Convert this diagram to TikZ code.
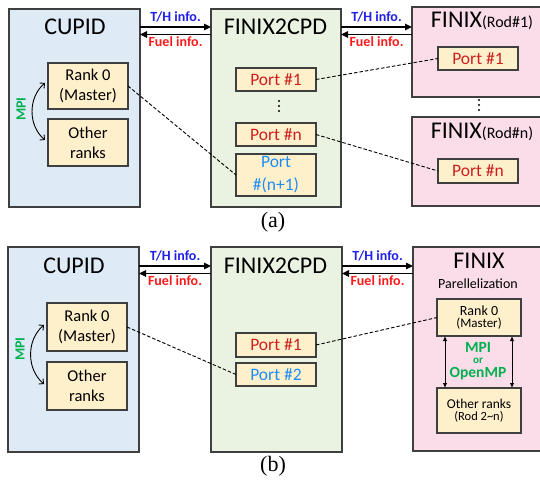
\documentclass[tikz,border=0pt]{standalone}
\usepackage{fontspec}
\setmainfont{Carlito}
\newfontfamily\capfont{Liberation Serif}
\usetikzlibrary{arrows.meta}
\definecolor{cupidfill}{HTML}{DEEBF7}
\definecolor{cpdfill}{HTML}{EAF3E1}
\definecolor{finixfill}{HTML}{FBDDE9}
\definecolor{infill}{HTML}{FFF0CC}
\definecolor{edgegray}{HTML}{3F3F3F}
\definecolor{portred}{HTML}{CC1F1F}
\definecolor{portblue}{HTML}{1E8CF5}
\definecolor{thblue}{HTML}{1F1FE6}
\definecolor{fuelred}{HTML}{FF1A1A}
\definecolor{mpigreen}{HTML}{00B050}

\begin{document}
\begin{tikzpicture}[
  x=1pt, y=-1pt,
  every node/.style={inner sep=0pt, outer sep=0pt},
  bigbox/.style={draw=edgegray, line width=1.2pt},
  inbox/.style={draw=edgegray, line width=1.1pt, fill=infill, align=center, minimum width=80},
  heading/.style={anchor=base, font=\fontsize{24}{28}\selectfont},
  porttext/.style={font=\fontsize{17.5}{23}\selectfont},
  ranktext/.style={font=\fontsize{16.5}{20}\selectfont},
  info/.style={font=\bfseries\fontsize{14}{16}\selectfont},
  flow/.style={line width=1.3pt, -{Triangle[length=7pt,width=6.5pt]}},
  link/.style={line width=0.9pt, dash pattern=on 3.5pt off 2pt},
  mpiloop/.style={line width=0.9pt, {Straight Barb[length=3.5pt]}-{Straight Barb[length=3.5pt]}},
  mpibar/.style={line width=0.9pt, {Latex[length=5pt,width=4.5pt]}-{Latex[length=5pt,width=4.5pt]}},
  mpitext/.style={text=mpigreen, font=\bfseries\fontsize{14}{16}\selectfont},
  caption/.style={font=\capfont\fontsize{22}{26}\selectfont}
  ]
  \useasboundingbox (0,0) rectangle (540,479);

  % (a)
  \node[bigbox, fill=cupidfill, minimum width=131, minimum height=198] (cupidA) at (74.5,108) {};
  \node[bigbox, fill=cpdfill, minimum width=130, minimum height=198] (cpdA) at (276,108) {};
  \node[bigbox, fill=finixfill, minimum width=136, minimum height=90] (rodA1) at (480,52) {};
  \node[bigbox, fill=finixfill, minimum width=136, minimum height=89] (rodAn) at (480,161.5) {};

  \node[heading] (cupidAtext) at (75,34) {CUPID};
  \node[heading] (cpdAtext) at (275.5,34) {FINIX2CPD};
  \node[heading] (rodA1text) at (482,27) {FINIX{\fontsize{16}{18}\selectfont(Rod\#1)}};
  \node[heading] (rodAntext) at (482,138) {FINIX{\fontsize{16}{18}\selectfont(Rod\#n)}};

  \node[inbox, ranktext, minimum height=46] (rankA) at (88,86) {Rank 0\\(Master)};
  \node[inbox, ranktext, minimum height=47] (otherA) at (88,142.5) {Other\\ranks};
  \node[mpitext, rotate=90] (mpiA) at (21,109) {MPI};
  \draw[mpiloop] ([xshift=-3pt,yshift=3pt]rankA.west) to[bend right=50] ([xshift=-3pt,yshift=2.5pt]otherA.west);

  \node[inbox, porttext, text=portred, minimum height=23] (portA1) at (276,79.5) {Port \#1};
  \coordinate (dotsA) at (279,106);
  \node[inbox, porttext, text=portred, minimum height=23] (portAn) at (276,134.5) {Port \#n};
  \node[inbox, porttext, text=portblue, minimum height=42] (portAx) at (276,175) {Port\\\#(n+1)};

  \node[inbox, porttext, text=portred, minimum height=23] (rodA1port) at (478,58.5) {Port \#1};
  \coordinate (dotsArod) at (479,105);
  \node[inbox, porttext, text=portred, minimum height=24] (rodAnport) at (478,171) {Port \#n};
  \foreach \dy in {-5,0,5} {
    \fill ([yshift=\dy pt]dotsA) circle (1.1pt);
    \fill ([yshift=\dy pt]dotsArod) circle (1.1pt);
  }

  \draw[flow] ([yshift=-18pt]cupidA.north east) -- node[info, text=thblue, above=5pt] (thA1) {T/H info.} ([yshift=-18pt]cpdA.north west);
  \draw[flow] ([yshift=-25.5pt]cpdA.north west) -- node[info, text=fuelred, below=2.5pt] (fuelA1) {Fuel info.} ([yshift=-25.5pt]cupidA.north east);
  \draw[flow] ([yshift=-18pt]cpdA.north east) -- node[info, text=thblue, above=5pt] (thA2) {T/H info.} ([yshift=-20pt]rodA1.north west);
  \draw[flow] ([yshift=-27.5pt]rodA1.north west) -- node[info, text=fuelred, below=2.5pt] (fuelA2) {Fuel info.} ([yshift=-25.5pt]cpdA.north east);

  \draw[link] (portA1.east) -- (rodA1port.west);
  \draw[link] (portAn.east) -- (rodAnport.west);
  \draw[link] (rankA.east) -- (portAx.west);

  \node[caption] (capA) at (273,222) {(a)};

  % (b)
  \node[bigbox, fill=cupidfill, minimum width=131, minimum height=205] (cupidB) at (73.5,349.5) {};
  \node[bigbox, fill=cpdfill, minimum width=131, minimum height=205] (cpdB) at (276.5,349.5) {};
  \node[bigbox, fill=finixfill, minimum width=135, minimum height=204] (finixB) at (480.5,349) {};

  \node[heading] (cupidBtext) at (74,273) {CUPID};
  \node[heading] (cpdBtext) at (275.5,273) {FINIX2CPD};
  \node[heading] (finixBtext) at (479,268) {FINIX};
  \node[anchor=base, font=\fontsize{14}{16}\selectfont] (parBtext) at (478,288) {Parellelization};

  \node[inbox, ranktext, minimum height=48] (rankB) at (87,327) {Rank 0\\(Master)};
  \node[inbox, ranktext, minimum height=48] (otherB) at (87,386) {Other\\ranks};
  \node[mpitext, rotate=90] (mpiB) at (20,349) {MPI};
  \draw[mpiloop] ([xshift=-3pt,yshift=2pt]rankB.west) to[bend right=50] ([xshift=-3pt,yshift=2pt]otherB.west);

  \node[inbox, porttext, text=portred, minimum height=24] (portB1) at (276,345) {Port \#1};
  \node[inbox, porttext, text=portblue, minimum height=23] (portB2) at (276,374.5) {Port \#2};

  \node[inbox, minimum width=84, minimum height=37] (fxrankB) at (479,317.5) {{\fontsize{14}{16}\selectfont Rank 0}\\{\fontsize{13}{16}\selectfont(Master)}};
  \node[inbox, minimum width=84, minimum height=45] (fxotherB) at (479,410.5) {{\fontsize{13.5}{17}\selectfont Other ranks}\\{\fontsize{12.5}{16}\selectfont(Rod 2\textasciitilde n)}};
  \draw[mpibar] ([xshift=8pt]fxrankB.south west) -- ([xshift=8pt]fxotherB.north west);
  \draw[mpibar] ([xshift=-9pt]fxrankB.south east) -- ([xshift=-9pt]fxotherB.north east);
  \node[mpitext, font=\bfseries\fontsize{15.5}{17}\selectfont] (mpiBfx) at (478,347) {MPI};
  \node[mpitext, font=\bfseries\fontsize{11}{13}\selectfont] (orBfx) at (478,361) {or};
  \node[mpitext, font=\bfseries\fontsize{15.5}{17}\selectfont] (ompBfx) at (478,374) {OpenMP};

  \draw[flow] ([yshift=-19pt]cupidB.north east) -- node[info, text=thblue, above=5pt] (thB1) {T/H info.} ([yshift=-19pt]cpdB.north west);
  \draw[flow] ([yshift=-26.5pt]cpdB.north west) -- node[info, text=fuelred, below=2.5pt] (fuelB1) {Fuel info.} ([yshift=-26.5pt]cupidB.north east);
  \draw[flow] ([yshift=-19pt]cpdB.north east) -- node[info, text=thblue, above=5pt] (thB2) {T/H info.} ([yshift=-19pt]finixB.north west);
  \draw[flow] ([yshift=-26.5pt]finixB.north west) -- node[info, text=fuelred, below=2.5pt] (fuelB2) {Fuel info.} ([yshift=-26.5pt]cpdB.north east);

  \draw[link] (portB1.east) -- (fxrankB.west);
  \draw[link] (rankB.east) -- (portB2.west);

  \node[caption] (capB) at (273,466) {(b)};
\end{tikzpicture}
\end{document}
